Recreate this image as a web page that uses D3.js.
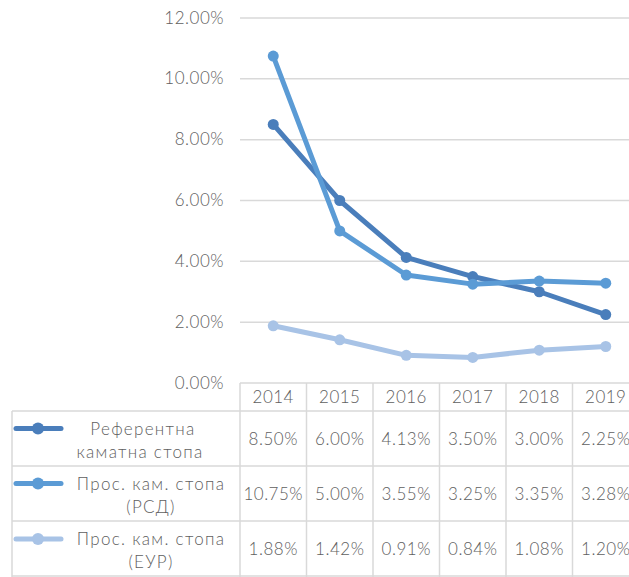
<!DOCTYPE html>
<html><head><meta charset="utf-8">
<script src="https://cdn.jsdelivr.net/npm/d3@7"></script>
<style>body{margin:0;background:#fff}svg{display:block}</style>
</head><body>
<script>
const years = ["2014","2015","2016","2017","2018","2019"];
const seriesNames = [["Референтна","каматна стопа"],["Прос. кам. стопа","(РСД)"],["Прос. кам. стопа","(ЕУР)"]];
const refRate = [8.50, 6.00, 4.13, 3.50, 3.00, 2.25];
const rsdRate = [10.75, 5.00, 3.55, 3.25, 3.35, 3.28];
const eurRate = [1.88, 1.42, 0.91, 0.84, 1.08, 1.20];
const yTicks = [0, 2, 4, 6, 8, 10, 12];
const colors = ["#4a7ebb", "#5b9bd5", "#a8c3e6"];
const series = [refRate, rsdRate, eurRate];

const W = 629, H = 577;
const svg = d3.select("body").append("svg").attr("width", W).attr("height", H);
const font = "Lato, 'Open Sans', sans-serif";
const textColor = "#606060";
const gridColor = "#d9d9d9";
const fs = 17, ls = 0.5;
function styleText(sel, spacing) {
  return sel.attr("font-family", font).attr("font-size", fs).attr("font-weight", 300)
    .attr("letter-spacing", spacing == null ? ls : spacing).attr("fill", textColor);
}

const plotLeft = 240, colW = 66.5;
const x = d3.scaleBand().domain(years).range([plotLeft, plotLeft + colW * years.length]);
const y = d3.scaleLinear().domain([0, 12]).range([383, 18]);

// gridlines
svg.append("g").selectAll("line").data(yTicks.filter(d => d > 0)).join("line")
  .attr("x1", plotLeft).attr("x2", W).attr("y1", d => y(d)).attr("y2", d => y(d))
  .attr("stroke", gridColor).attr("stroke-width", 1.5);

// y axis
const yAxis = d3.axisLeft(y).tickValues(yTicks).tickFormat(d => d.toFixed(2) + "%").tickSize(0).tickPadding(0);
const ya = svg.append("g").attr("transform", "translate(224,0)").call(yAxis);
ya.select(".domain").remove();
styleText(ya.selectAll("text")).attr("dy", "0.3em");

// lines
const line = d3.line().x((d, i) => x(years[i]) + x.bandwidth() / 2).y(d => y(d));
series.forEach((s, k) => {
  const g = svg.append("g");
  g.append("path").datum(s).attr("d", line).attr("fill", "none")
    .attr("stroke", colors[k]).attr("stroke-width", 5).attr("stroke-linejoin", "round");
  g.selectAll("circle").data(s).join("circle")
    .attr("cx", (d, i) => x(years[i]) + x.bandwidth() / 2).attr("cy", d => y(d)).attr("r", 5.5)
    .attr("fill", colors[k]);
});

// table
const tableLeft = 12;
const rowY = [383, 411, 466, 521, 577];
const tg = svg.append("g");
const tableRight = plotLeft + colW * years.length;
tg.append("line").attr("x1", plotLeft).attr("x2", tableRight).attr("y1", rowY[0]).attr("y2", rowY[0]).attr("stroke", gridColor).attr("stroke-width", 1.5);
for (let i = 1; i < rowY.length - 1; i++) {
  tg.append("line").attr("x1", tableLeft).attr("x2", tableRight).attr("y1", rowY[i]).attr("y2", rowY[i]).attr("stroke", gridColor).attr("stroke-width", 1.5);
}
tg.append("line").attr("x1", tableLeft).attr("x2", tableRight).attr("y1", 576).attr("y2", 576).attr("stroke", gridColor).attr("stroke-width", 1.5);
tg.append("line").attr("x1", tableLeft).attr("x2", tableLeft).attr("y1", rowY[1]).attr("y2", H).attr("stroke", gridColor).attr("stroke-width", 1.5);
years.forEach((yr) => {
  tg.append("line").attr("x1", x(yr)).attr("x2", x(yr)).attr("y1", rowY[0]).attr("y2", H).attr("stroke", gridColor).attr("stroke-width", 1.5);
});
// header
styleText(tg.selectAll("text.hdr").data(years).join("text").attr("class", "hdr")
  .attr("x", d => x(d) + x.bandwidth() / 2).attr("y", (rowY[0] + rowY[1]) / 2 + 6)
  .attr("text-anchor", "middle")).text(d => d);
// values and legend
series.forEach((s, k) => {
  const cy = (rowY[k + 1] + rowY[k + 2]) / 2;
  styleText(tg.selectAll("text.v" + k).data(s).join("text").attr("class", "v" + k)
    .attr("x", (d, i) => x(years[i]) + x.bandwidth() / 2).attr("y", cy + 6)
    .attr("text-anchor", "middle")).text(d => d.toFixed(2) + "%");
  tg.append("line").attr("x1", 16).attr("x2", 61).attr("y1", cy - 10).attr("y2", cy - 10)
    .attr("stroke", colors[k]).attr("stroke-width", 5).attr("stroke-linecap", "round");
  tg.append("circle").attr("cx", 38).attr("cy", cy - 10).attr("r", 6).attr("fill", colors[k]);
  styleText(tg.append("text").attr("x", k === 0 ? 143 : 151).attr("y", cy - 4)
    .attr("text-anchor", "middle"), 1.3).text(seriesNames[k][0]);
  styleText(tg.append("text").attr("x", k === 0 ? 140 : 151).attr("y", cy + 19)
    .attr("text-anchor", "middle"), 1.3).text(seriesNames[k][1]);
});
</script>
</body></html>
